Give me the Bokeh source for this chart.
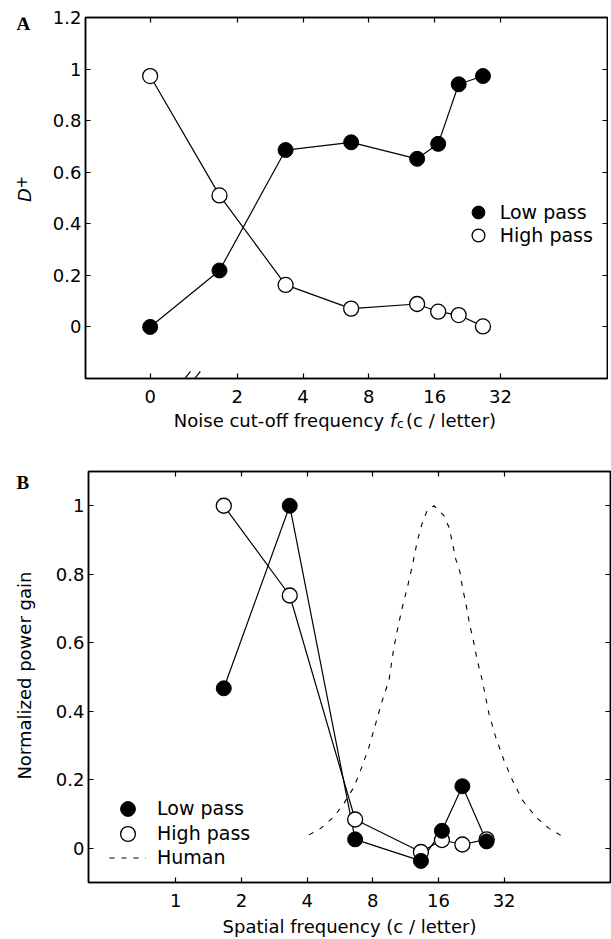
import math
from bokeh.plotting import figure
from bokeh.models import (Range1d, FixedTicker, LinearAxis, LogAxis, Legend, LegendItem)
from bokeh.core.properties import value
from bokeh.layouts import column, row
from bokeh.embed import file_html
from bokeh.resources import INLINE

# ---------------- data ----------------
# Panel A: D+ vs noise cut-off frequency (0 = no filtering, drawn left of the axis break)
a_freq = [0, 1.66, 3.33, 6.64, 13.3, 16.6, 20.6, 26.6]
a_low = [0.0, 0.219, 0.686, 0.716, 0.652, 0.710, 0.941, 0.973]
a_high = [0.973, 0.510, 0.163, 0.071, 0.089, 0.059, 0.046, 0.002]
a_xticks = [0, 2, 4, 8, 16, 32]
a_xtick_labels = ["0", "2", "4", "8", "16", "32"]
a_yticks = [0, 0.2, 0.4, 0.6, 0.8, 1, 1.2]
a_ytick_labels = ["0", "0.2", "0.4", "0.6", "0.8", "1", "1.2"]

# Panel B: normalized power gain vs spatial frequency
b_freq = [1.66, 3.33, 6.64, 13.3, 16.6, 20.6, 26.6]
b_low = [0.467, 1.0, 0.026, -0.037, 0.051, 0.181, 0.020]
b_high = [1.0, 0.738, 0.084, -0.011, 0.024, 0.011, 0.026]
human_freq = [4.08, 4.62, 5.31, 5.90, 6.56, 7.04, 7.69, 8.25, 8.85, 9.49, 10.0, 10.44,
              10.93, 11.53, 12.15, 12.81, 13.50, 14.23, 15.26, 16.96, 17.88, 18.53,
              19.19, 20.08, 20.59, 21.32, 22.30, 23.12, 23.94, 24.53, 25.42, 27.26,
              29.26, 31.94, 34.90, 38.77, 44.60, 51.33, 60.14]
human_gain = [0.039, 0.058, 0.092, 0.131, 0.179, 0.228, 0.296, 0.364, 0.432, 0.490,
              0.587, 0.646, 0.704, 0.762, 0.825, 0.898, 0.951, 0.987, 1.0, 0.971, 0.937,
              0.893, 0.845, 0.806, 0.762, 0.718, 0.650, 0.607, 0.558, 0.529, 0.490,
              0.393, 0.325, 0.257, 0.199, 0.141, 0.092, 0.058, 0.032]
b_xticks = [1, 2, 4, 8, 16, 32]
b_xtick_labels = ["1", "2", "4", "8", "16", "32"]
b_yticks = [0, 0.2, 0.4, 0.6, 0.8, 1]
b_ytick_labels = ["0", "0.2", "0.4", "0.6", "0.8", "1"]

# ---------------- styling ----------------
FONT = "DejaVu Sans"
SERIF = "Liberation Serif"
ZERO_POS = 0.8          # where f = 0 is drawn on the log axis (left of the break)
BREAK_POS = 2 ** 0.3    # centre of the axis-break marks
BASE_SHIFT = 0.36       # baseline correction of text glyphs, in em


def xpos(f):
    return ZERO_POS if f == 0 else f


def style_axis(ax, ticks, labels, standoff, show_labels=True):
    ax.ticker = FixedTicker(ticks=ticks)
    ax.axis_line_color = "black"
    ax.axis_line_width = 1.5
    ax.major_tick_in = 5
    ax.major_tick_out = 0
    ax.major_tick_line_color = "black"
    ax.major_tick_line_width = 1.2
    ax.minor_tick_line_color = None
    if show_labels:
        ax.major_label_overrides = dict(zip(ticks, labels))
        ax.major_label_text_font = FONT
        ax.major_label_text_font_size = "18px"
        ax.major_label_text_color = "black"
        ax.major_label_standoff = standoff
    else:
        ax.major_label_text_font_size = "0px"
        ax.major_label_text_color = None
        ax.major_label_standoff = 0


def box_axes(p, xt, xl, yt, yl):
    bottom, left = p.below[0], p.left[0]
    style_axis(bottom, xt, xl, 11)
    style_axis(left, yt, yl, 4)
    top = LogAxis()
    style_axis(top, xt, xl, 0, show_labels=False)
    p.add_layout(top, "above")
    right = LinearAxis()
    style_axis(right, yt, yl, 0, show_labels=False)
    p.add_layout(right, "right")
    p.xgrid.visible = False
    p.ygrid.visible = False
    p.outline_line_color = "black"
    p.outline_line_width = 1.5
    p.background_fill_color = "white"
    p.border_fill_color = "white"
    return bottom, left


def text_strip(w, h, win_top, b_top, b_bottom):
    """Bare figure used for texts beside a panel; data coords = (page x, -page y)."""
    s = figure(width=w, height=h, x_range=Range1d(0, w),
               y_range=Range1d(-(win_top + h - b_bottom), -(win_top + b_top)),
               x_axis_location=None, y_axis_location=None, output_backend="svg",
               toolbar_location=None, min_border=0, min_border_left=0,
               min_border_right=0, min_border_top=b_top, min_border_bottom=b_bottom)
    s.xgrid.visible = False
    s.ygrid.visible = False
    s.outline_line_color = None
    s.background_fill_color = "white"
    s.border_fill_color = "white"
    return s


def put_text(s, x, y, txt, size=18, style="normal", font=FONT, rotated=False,
             align="left"):
    """x, y: page position of the text baseline anchor."""
    shift = BASE_SHIFT * size
    if rotated:
        x, angle = x - shift, math.pi / 2
    else:
        y, angle = y - shift, 0.0
    s.text(x=[x], y=[-y], text=[txt], text_font=value(font),
           text_font_size=value(f"{size}px"), text_font_style=style,
           text_color="black", angle=angle, text_align=align,
           text_baseline="alphabetic")


def single_legend(label, renderer, loc, glyph, standoff):
    return Legend(items=[LegendItem(label=label, renderers=[renderer])],
                  location=loc, glyph_width=glyph, glyph_height=glyph, spacing=0,
                  label_standoff=standoff, padding=0, margin=0,
                  border_line_color=None, background_fill_alpha=0,
                  label_text_font=FONT, label_text_font_size="19px",
                  label_text_color="black")


# ---------------- panel A ----------------
HA, A_TOP, A_BOT = 409, 17, 31
pA = figure(width=560, height=HA, x_axis_type="log",
            x_range=Range1d(2 ** -1.304, 2 ** 6.625), y_range=Range1d(-0.2, 1.2),
            output_backend="svg", toolbar_location=None,
            min_border_left=37, min_border_right=1, min_border_top=A_TOP,
            min_border_bottom=A_BOT)
a_x = [xpos(f) for f in a_freq]
a_xt = [xpos(f) for f in a_xticks]
box_axes(pA, a_xt, a_xtick_labels, a_yticks, a_ytick_labels)

pA.line(a_x, a_high, line_color="black", line_width=1.2)
pA.line(a_x, a_low, line_color="black", line_width=1.2)
rA_hi = pA.scatter(a_x, a_high, marker="circle", size=15, fill_color="white",
                   line_color="black", line_width=1.3)
rA_lo = pA.scatter(a_x, a_low, marker="circle", size=15, fill_color="black",
                   line_color="black", line_width=1.0)

pA.add_layout(single_legend("Low pass", rA_lo, (376.7, 150.3), 32, 6))
pA.add_layout(single_legend("High pass", rA_hi, (376.7, 127.0), 32, 6))

# axis-break marks "//" on the bottom axis
brk_x0 = [BREAK_POS * 2 ** (o - 0.09) for o in (-0.1, 0.05)]
brk_x1 = [BREAK_POS * 2 ** (o + 0.09) for o in (-0.1, 0.05)]
pA.segment(x0=brk_x0, y0=[-0.232, -0.232], x1=brk_x1, y1=[-0.172, -0.172],
           line_color="black", line_width=1.2)

# texts left of panel A (panel letter and y label "D+")
stripA = text_strip(48, HA, 0, A_TOP, A_BOT)
put_text(stripA, 16, 30, "A", size=19, style="bold", font=SERIF)
put_text(stripA, 30, 201.5, "D", size=18, style="italic", rotated=True)
put_text(stripA, 25.5, 188, "+", size=15, rotated=True)

# x label of panel A
HT = 30
textA = text_strip(611, HT, HA, 0, 0)
put_text(textA, 173.3, 426.7, "Noise cut-off frequency")
put_text(textA, 389.5, 426.7, "f", style="italic")
put_text(textA, 396.5, 428.2, "c", size=12)
put_text(textA, 405.5, 426.7, "(c / letter)")

# ---------------- panel B ----------------
TOP_B = HA + HT
HB, B_TOP, B_BOT = 500, 32, 56
pB = figure(width=563, height=HB, x_axis_type="log",
            x_range=Range1d(2 ** -1.329, 2 ** 6.62), y_range=Range1d(-0.1, 1.1),
            output_backend="svg", toolbar_location=None,
            min_border_left=40, min_border_right=1, min_border_top=B_TOP,
            min_border_bottom=B_BOT)
bB, lB = box_axes(pB, b_xticks, b_xtick_labels, b_yticks, b_ytick_labels)
bB.axis_label = "Spatial frequency (c / letter)"
bB.axis_label_standoff = 6
bB.axis_label_text_font = FONT
bB.axis_label_text_font_size = "18px"
bB.axis_label_text_font_style = "normal"
bB.axis_label_text_color = "black"

rB_hu = pB.line(human_freq, human_gain, line_color="black", line_width=1.1,
                line_dash="5 7")
pB.line(b_freq, b_high, line_color="black", line_width=1.2)
pB.line(b_freq, b_low, line_color="black", line_width=1.2)
rB_hi = pB.scatter(b_freq, b_high, marker="circle", size=15, fill_color="white",
                   line_color="black", line_width=1.3)
rB_lo = pB.scatter(b_freq, b_low, marker="circle", size=15, fill_color="black",
                   line_color="black", line_width=1.0)

pB.add_layout(single_legend("Low pass", rB_lo, (21, 55.5), 37, 11))
pB.add_layout(single_legend("High pass", rB_hi, (21, 30.5), 37, 11))
pB.add_layout(single_legend("Human", rB_hu, (21, 6.2), 37, 11))

stripB = text_strip(48, HB, TOP_B, B_TOP, B_BOT)
put_text(stripB, 16, 489, "B", size=19, style="bold", font=SERIF)
put_text(stripB, 30.4, 675.6, "Normalized power gain", size=18, rotated=True,
         align="center")

layout = column(row(stripA, pA), textA, row(stripB, pB))
open("out.html", "w").write(file_html(layout, INLINE))
